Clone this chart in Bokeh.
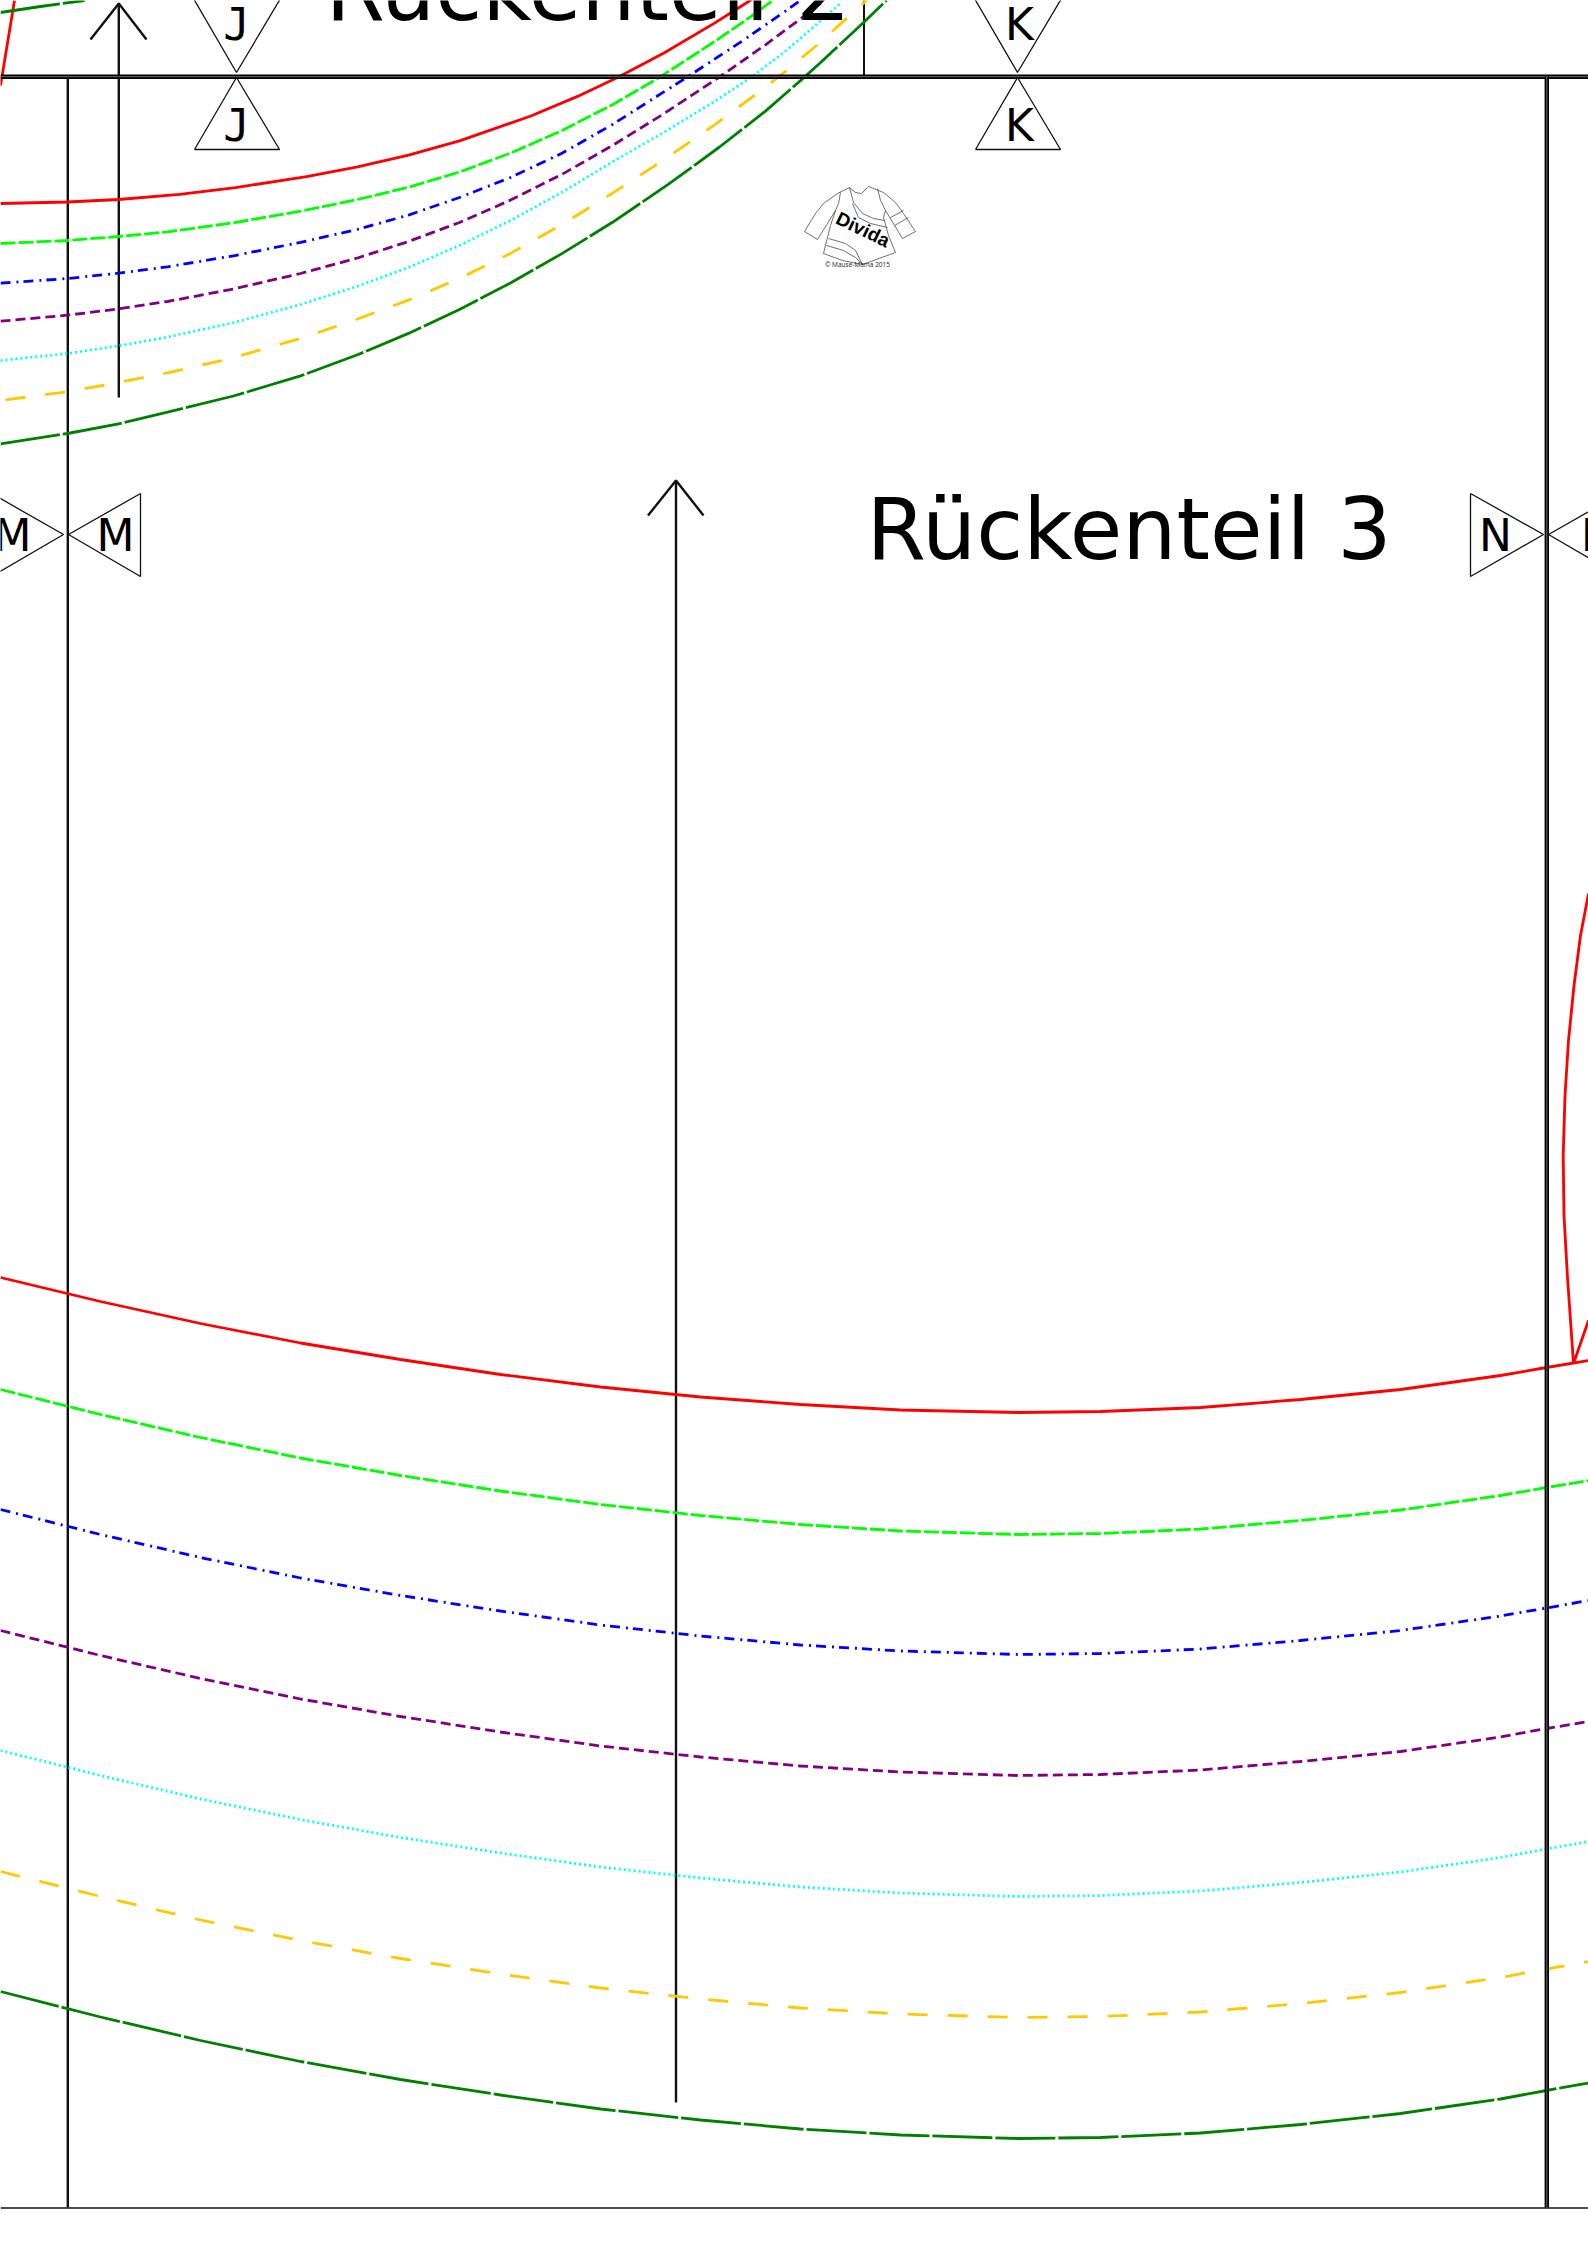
from bokeh.plotting import figure
from bokeh.models import Range1d
from bokeh.core.properties import value
from bokeh.embed import file_html
from bokeh.resources import INLINE

W, H = 1588, 2245

# ---- size curves, upper (armhole-like) group, read in page pixels
up_red_x = [0, 67, 118, 179, 235, 306, 357, 408, 459, 531, 577, 617, 663, 714, 745, 760]
up_red_y = [203, 201.5, 199, 193.8, 187.1, 176.1, 166.4, 154.7, 140.4, 115.2, 95.9, 77.1, 52.7, 22.6, 3, -7]
up_grn_x = [0, 67, 118, 167, 233, 300, 357, 408, 459, 510, 561, 612, 658, 714, 750, 771]
up_grn_y = [243, 240, 236, 231.3, 222.3, 210.7, 199, 186.8, 171.5, 152.6, 130.2, 104.2, 77.5, 41.1, 16.3, 0.9]
up_blu_x = [0, 67, 118, 167, 233, 300, 357, 408, 459, 510, 561, 612, 686, 740, 781, 800]
up_blu_y = [282.7, 278, 272.7, 266.3, 255.3, 241.9, 228.9, 214.6, 197, 177, 153, 124, 77, 41.7, 13.4, 0]
up_pur_x = [0, 67, 118, 167, 233, 300, 357, 408, 459, 510, 561, 612, 663, 719, 765, 800, 816, 824]
up_pur_y = [320.7, 314.7, 308.4, 301, 288.5, 273, 257.5, 241, 222, 199.6, 174.1, 145, 113.4, 76.5, 44.3, 18.4, 6, 0]
up_cya_x = [0, 67, 118, 167, 233, 300, 357, 408, 459, 510, 561, 612, 663, 714, 751, 783, 806, 839]
up_cya_y = [360, 353, 345.4, 336.6, 322.1, 304, 285.8, 266.9, 245, 220, 192, 161.4, 132, 101, 76.5, 52.3, 32.7, 3.6]
up_gol_x = [5, 67, 107, 167, 227, 300, 357, 408, 459, 510, 561, 612, 663, 714, 760, 785, 816, 847, 860, 866]
up_gol_y = [399.3, 391.3, 384, 372.3, 358.8, 338, 318.5, 299.6, 277.9, 252.9, 224.3, 192.7, 159.6, 124.4, 90.4, 70.9, 45, 17.1, 5.4, 0]
up_dkg_x = [0, 67, 118, 167, 233, 300, 357, 408, 459, 510, 561, 612, 668, 719, 765, 800, 819, 863, 886]
up_dkg_y = [443.3, 433, 423.3, 411.7, 395.5, 375.4, 354.3, 332.9, 309, 282.5, 253.4, 221.8, 183.7, 146.5, 110.6, 80.1, 63, 22, 0]

# ---- size curves, lower (hem) group
lo_x = [0, 100, 200, 300, 400, 500, 600, 700, 800, 900, 1018, 1100, 1200, 1300, 1400, 1500, 1546, 1588]
lo_red_y = [1277, 1301, 1323, 1342.5, 1359, 1374, 1386.5, 1396.5, 1404, 1409.5, 1412, 1411, 1407, 1399, 1389, 1375, 1367, 1360]
lo_grn_y = [1389, 1414, 1437, 1457.5, 1475, 1490.5, 1504, 1515, 1524, 1530.5, 1534, 1533, 1528.5, 1520, 1509.5, 1495, 1487, 1480]
lo_blu_y = [1509, 1534, 1557, 1577.5, 1595, 1610.5, 1624.5, 1635.5, 1644.5, 1650.5, 1654, 1653, 1648.5, 1640, 1630, 1615.5, 1607.5, 1600]
lo_pur_y = [1630, 1655, 1678, 1698.5, 1716, 1731.5, 1745.5, 1756.5, 1765.5, 1771.5, 1775, 1774, 1769.5, 1761, 1751, 1736.5, 1728, 1721]
lo_cya_y = [1750, 1775, 1798.5, 1819, 1837, 1852.5, 1866.5, 1877.5, 1886.5, 1892.5, 1896, 1895, 1890.5, 1882, 1871.5, 1857, 1848.5, 1841]
lo_gol_y = [1871, 1896, 1919.5, 1940, 1958, 1973.5, 1987.5, 1998.5, 2007.5, 2013.5, 2017, 2016, 2011.5, 2003, 1992, 1977, 1968.5, 1961]
lo_dkg_y = [1991, 2016.5, 2040, 2061, 2079, 2094.5, 2108.5, 2119.5, 2128.5, 2134.5, 2138, 2137, 2132.5, 2124, 2113, 2098.5, 2090, 2082.5]

# ---- other red piece fragments
red_side_x = [1588, 1580, 1573.5, 1568, 1564.5, 1562.7, 1563.5, 1567, 1573, 1588]
red_side_y = [893, 935, 985, 1040, 1095, 1155, 1215, 1277, 1363, 1320]
red_hip_x = [0, 14]
red_hip_y = [85, 0]
dkg_top_x = [0, 40, 84]
dkg_top_y = [12, 6, 0]

GRN, BLU, PUR, CYA, GOL, DKG = "15 3", "10 6 2 5", "10 5", "2 3", "20 20", "60 3"
series = [
    (up_red_x, up_red_y, "#ff0000", "solid"),
    (up_grn_x, up_grn_y, "#00ff00", GRN),
    (up_blu_x, up_blu_y, "#0000ff", BLU),
    (up_pur_x, up_pur_y, "#800080", PUR),
    (up_cya_x, up_cya_y, "#00ffff", CYA),
    (up_gol_x, up_gol_y, "#ffc800", GOL),
    (up_dkg_x, up_dkg_y, "#008000", DKG),
    (lo_x, lo_red_y, "#ff0000", "solid"),
    (lo_x, lo_grn_y, "#00ff00", GRN),
    (lo_x, lo_blu_y, "#0000ff", BLU),
    (lo_x, lo_pur_y, "#800080", PUR),
    (lo_x, lo_cya_y, "#00ffff", CYA),
    (lo_x, lo_gol_y, "#ffc800", GOL),
    (lo_x, lo_dkg_y, "#008000", DKG),
    (red_side_x, red_side_y, "#ff0000", "solid"),
    (red_hip_x, red_hip_y, "#ff0000", "solid"),
    (dkg_top_x, dkg_top_y, "#008000", DKG),
]

# ---- match-mark triangles
tri_xs = [[193, 236, 280], [194, 236, 279], [974, 1017, 1061], [975, 1017, 1060],
          [-9, 63, -9], [140, 68, 140], [1470, 1543, 1470], [1620, 1548, 1620]]
tri_ys = [[-2, 72, -2], [149, 77, 149], [-2, 72, -2], [149, 77, 149],
          [493, 534, 576], [493, 534, 576], [493, 534, 576], [493, 534, 576]]
mark_labels = ["J", "J", "K", "K", "M", "M", "N", "N"]
mark_x = [236, 236, 1019, 1019, 12, 115, 1495, 1597]
mark_y = [24, 125, 24, 125, 535, 535, 535, 535]
mark_fonts = ["DejaVu Sans Mono", "DejaVu Sans Mono", "DejaVu Sans", "DejaVu Sans",
              "DejaVu Sans", "DejaVu Sans", "DejaVu Sans", "DejaVu Sans"]

# ---- titles
titles = ["Rückenteil 2", "Rückenteil 3"]
title_x = [325, 866]
title_y = [-10, 529]

# ---- logo (line drawing) in page pixels
logo_lines = [
    ([849, 855, 861, 868], [187, 192, 193, 186]),
    ([849, 837, 823, 815, 804, 817, 835, 830, 823, 842, 862, 895, 888, 883, 885],
     [187, 193, 203, 213, 231, 239, 210, 225, 253, 260, 264, 252, 235, 217, 210]),
    ([868, 883, 895, 903, 915, 902, 885], [186, 192, 202, 213, 231, 238, 210]),
    ([890, 903], [217, 210]), ([894, 908], [225, 217]),
    ([877, 880, 885], [188, 200, 210]), ([840, 838, 835], [192, 203, 210]),
    ([849, 853, 862, 873, 884], [187, 202, 213, 218, 220]),
    ([852, 858, 870, 887], [203, 217, 223, 227]),
    ([828, 845, 855, 862], [238, 243, 250, 264]),
    ([826, 843, 855, 862], [245, 250, 257, 264]),
]

p = figure(width=W, height=H, x_range=Range1d(0, W), y_range=Range1d(H, 0),
           output_backend="svg", toolbar_location=None, min_border=0,
           x_axis_location=None, y_axis_location=None,
           outline_line_color=None)
p.grid.visible = False
p.background_fill_color = "white"
p.border_fill_color = "white"

# frame and grain arrows
p.line([0, W], [2207.5, 2207.5], line_color="#111111", line_width=1.6)
p.line([67.3, 67.3], [76, 2207], line_color="#111111", line_width=2.4)
p.line([863.5, 863.5], [0, 76], line_color="#111111", line_width=2)
p.line([118.3, 118.3], [3, 397], line_color="#111111", line_width=2.4)
p.line([90, 118.3, 146], [39, 3, 39], line_color="#111111", line_width=2.4)
p.line([675.5, 675.5], [480, 2102], line_color="#111111", line_width=2.4)
p.line([647.5, 675.5, 703], [515, 480, 515], line_color="#111111", line_width=2.4)

for x, y, c, d in series:
    p.line(x, y, line_color=c, line_width=2.8, line_dash=d)

# double page-edge lines
for xs, ys in [([0, W], [76.2, 76.2]), ([1546.3, 1546.3], [76, 2207])]:
    p.line(xs, ys, line_color="#000000", line_width=4.4)
    p.line(xs, ys, line_color="#888888", line_width=0.8)

for xs, ys in zip(tri_xs, tri_ys):
    p.line(xs + xs[:1], ys + ys[:1], line_color="#111111", line_width=1.3)

for lab, x, y, f in zip(mark_labels, mark_x, mark_y, mark_fonts):
    p.text([x], [y], text=[lab], text_font=value(f), text_font_size="44px",
           text_align="center", text_baseline="alphabetic", text_color="#000000")

p.text(title_x, title_y, text=titles, text_font=value("DejaVu Sans"), text_font_size="85.5px",
       text_align="left", text_baseline="alphabetic", text_color="#000000")

for xs, ys in logo_lines:
    p.line(xs, ys, line_color="#333333", line_width=0.7)
p.text([862.5], [229], text=["Divida"], text_font=value("Liberation Sans"), text_font_size="19px",
       text_font_style="bold", angle=-0.45, text_align="center", text_baseline="middle",
       text_color="#000000")
p.text([857], [264], text=["© Mause-Mama 2015"], text_font=value("Open Sans"), text_font_size="6.5px",
       text_align="center", text_baseline="middle", text_color="#222222")

open("out.html", "w").write(file_html(p, INLINE))
